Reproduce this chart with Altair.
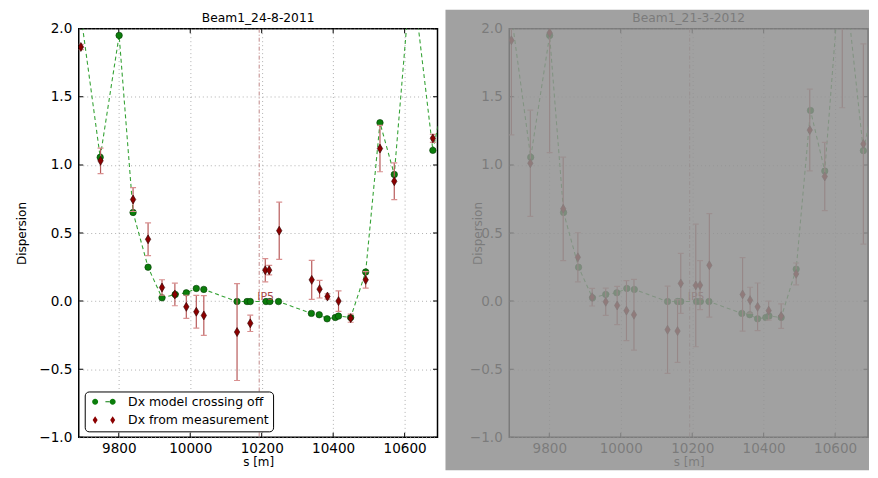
import altair as alt
import pandas as pd

TITLE_LEFT = "Beam1_24-8-2011"
TITLE_RIGHT = "Beam1_21-3-2012"
MODEL_LABEL = "Dx model crossing off"
MEAS_LABEL = "Dx from measurement"
X_TITLE = "s [m]"
Y_TITLE = "Dispersion"
IP5_LABEL = "IP5"
IP5_S = [10193]
X_DOMAIN = [9688, 10692]
Y_DOMAIN = [-1.0, 2.0]
X_TICKS = [9800, 10000, 10200, 10400, 10600]
Y_TICKS = [-1.0, -0.5, 0.0, 0.5, 1.0, 1.5, 2.0]

# model (crossing off) positions and values
model_s = [9693, 9748, 9801, 9840, 9882, 9921, 9958, 9989, 10017, 10038,
           10131, 10159, 10168, 10212, 10223, 10247, 10339, 10361, 10383, 10406,
           10415, 10449, 10491, 10531, 10571, 10619, 10679, 10720]
model_d_left = [2.12, 1.056, 1.951, 0.651, 0.249, 0.024, 0.049, 0.061, 0.093, 0.086,
                -0.003, -0.003, -0.003, -0.003, -0.003, -0.003, -0.09, -0.10, -0.13, -0.12,
                -0.11, -0.12, 0.214, 1.31, 0.93, 2.44, 1.107, 1.62]
model_d_right = [2.12, 1.056, 1.951, 0.651, 0.249, 0.024, 0.049, 0.061, 0.093, 0.086,
                 -0.003, -0.003, -0.003, -0.003, -0.003, -0.003, -0.09, -0.10, -0.13, -0.12,
                 -0.11, -0.12, 0.235, 1.40, 0.955, 2.58, 1.105, 1.62]

# measurements, left panel
meas_s_left = [9694, 9749, 9840, 9882, 9921, 9957, 9989, 10017, 10038, 10131,
               10168, 10210, 10221, 10249, 10340, 10362, 10384, 10415, 10449, 10491,
               10531, 10571, 10679]
meas_d_left = [1.866, 1.03, 0.746, 0.454, 0.10, 0.049, -0.042, -0.078, -0.105, -0.227,
               -0.163, 0.227, 0.227, 0.517, 0.156, 0.088, 0.034, 0.0, -0.125, 0.156,
               1.12, 0.88, 1.195]
meas_e_left = [0.02, 0.094, 0.088, 0.12, 0.057, 0.083, 0.085, 0.12, 0.146, 0.356,
               0.06, 0.085, 0.035, 0.21, 0.143, 0.065, 0.02, 0.075, 0.03, 0.06,
               0.17, 0.135, 0.03]

# measurements, right panel
meas_s_right = [9694, 9747, 9801, 9839, 9880, 9920, 9958, 9990, 10016, 10037,
                10131, 10159, 10168, 10210, 10222, 10248, 10341, 10362, 10383, 10414,
                10449, 10491, 10529, 10571, 10620, 10679]
meas_d_right = [1.915, 1.012, 1.97, 0.678, 0.322, 0.029, -0.005, -0.032, -0.07, -0.10,
                -0.21, -0.22, 0.13, 0.115, 0.117, 0.263, 0.049, 0.007, -0.042, -0.07,
                -0.11, 0.2, 1.256, 0.915, 2.2, 1.154]
meas_e_right = [0.695, 0.39, 0.88, 0.38, 0.18, 0.065, 0.1, 0.14, 0.22, 0.26,
                0.32, 0.23, 0.22, 0.45, 0.18, 0.38, 0.27, 0.095, 0.175, 0.07,
                0.09, 0.08, 0.30, 0.25, 0.78, 0.735]

FONT = "DejaVu Sans"
GREEN = "#0b7d0b"
GREEN_EDGE = "#053a05"
LINE_GREEN = "#36a336"
RED = "#8b0000"
RED_EDGE = "#2e0000"
ERR = "#b85a5a"
CAP = "#d99090"
IP5_LINE = "#c08888"
IP5_TEXT = "#a84848"

DIAMOND = "M0,-1L0.6,0L0,1L-0.6,0Z"
SYM_MODEL = ("M-2.36,0a0.6,0.6 0 1,0 1.2,0a0.6,0.6 0 1,0 -1.2,0Z"
             "M1.16,0a0.6,0.6 0 1,0 1.2,0a0.6,0.6 0 1,0 -1.2,0Z"
             "M0.3,-0.11L1.2,-0.11L1.2,0.11L0.3,0.11Z")
SYM_MEAS = "M-1.76,-0.8L-1.26,0L-1.76,0.8L-2.26,0ZM1.76,-0.8L2.26,0L1.76,0.8L1.26,0Z"

W, H = 360, 410


def panel(title, model_d, ms, md, me, muted):
    model_df = pd.DataFrame({"s": model_s, "d": model_d})
    meas_df = pd.DataFrame({"s": ms, "d": md, "e": me})
    meas_df["lo"] = meas_df["d"] - meas_df["e"]
    meas_df["hi"] = meas_df["d"] + meas_df["e"]
    legend_df = pd.concat([
        model_df.assign(series=MODEL_LABEL),
        meas_df[["s", "d"]].assign(series=MEAS_LABEL),
    ])
    ip5_df = pd.DataFrame({"s": IP5_S, "d": [0.0], "label": [IP5_LABEL]})
    xt_df = pd.DataFrame({"s": X_TICKS})
    yt_df = pd.DataFrame({"d": Y_TICKS})

    xs = alt.Scale(domain=X_DOMAIN, nice=False, zero=False)
    ys = alt.Scale(domain=Y_DOMAIN, nice=False, zero=False)
    xax = alt.Axis(values=X_TICKS, format="d", title=X_TITLE)
    if muted:
        yax = alt.Axis(values=Y_TICKS, format=".1f", title=Y_TITLE, titleX=-25)
    else:
        yax = alt.Axis(values=Y_TICKS, format=".1f", title=Y_TITLE)

    def X(f="s"):
        return alt.X(f"{f}:Q", scale=xs, axis=xax)

    def Y(f="d"):
        return alt.Y(f"{f}:Q", scale=ys, axis=yax)

    if muted:
        leg_fill = ["#7c8d7c", "#907b7b"]
        leg = dict(fillColor="#a1a1a1", strokeColor="#7b7b7b", labelColor="#7b7b7b",
                   symbolStrokeColor="#6f7a6f")
        title_color = "#7b7b7b"
        title_offset = -15
    else:
        leg_fill = [GREEN, RED]
        leg = dict(fillColor="white", strokeColor="black", labelColor="black",
                   symbolStrokeColor="#222222")
        title_color = "black"
        title_offset = -3

    legend = alt.Legend(orient="bottom-left", offset=6, title=None, padding=4,
                        cornerRadius=4, symbolSize=100, symbolOffset=9,
                        labelOffset=18, labelFont=FONT, labelFontSize=12.5,
                        rowPadding=5.5, symbolOpacity=1, symbolStrokeWidth=0.5,
                        **leg)

    base_m = alt.Chart(model_df)
    base_e = alt.Chart(meas_df)

    # inward tick marks on all four sides of the frame
    tick_style = dict(color="black", thickness=1, size=9, opacity=1, clip=True)
    t_top = alt.Chart(xt_df).mark_tick(orient="vertical", **tick_style).encode(
        x=X(), y=alt.value(0))
    t_bot = alt.Chart(xt_df).mark_tick(orient="vertical", **tick_style).encode(
        x=X(), y=alt.value(H))
    t_left = alt.Chart(yt_df).mark_tick(orient="horizontal", **tick_style).encode(
        y=Y(), x=alt.value(0))
    t_right = alt.Chart(yt_df).mark_tick(orient="horizontal", **tick_style).encode(
        y=Y(), x=alt.value(W))

    ip5_rule = alt.Chart(ip5_df).mark_rule(
        color=IP5_LINE, strokeWidth=1, strokeDash=[4, 2, 1, 2], clip=True
    ).encode(x=X())
    ip5_text = alt.Chart(ip5_df).mark_text(
        align="left", baseline="alphabetic", dx=-2, dy=-1, font=FONT, fontSize=11,
        color=IP5_TEXT, clip=True
    ).encode(x=X(), y=Y(), text="label:N")

    line = base_m.mark_line(color=LINE_GREEN, strokeWidth=1.1, strokeDash=[4, 3],
                            clip=True).encode(x=X(), y=Y(), order="s:Q")
    pts_m = base_m.mark_point(filled=True, shape="circle", size=42, fill=GREEN,
                              stroke=GREEN_EDGE, strokeWidth=0.6, opacity=1,
                              clip=True).encode(x=X(), y=Y())
    bars = base_e.mark_rule(color=ERR, strokeWidth=1.2, clip=True).encode(
        x=X(), y=Y("lo"), y2="hi:Q")
    cap_lo = base_e.mark_tick(orient="horizontal", color=CAP, size=6, thickness=1.2,
                              opacity=1, clip=True).encode(x=X(), y=Y("lo"))
    cap_hi = base_e.mark_tick(orient="horizontal", color=CAP, size=6, thickness=1.2,
                              opacity=1, clip=True).encode(x=X(), y=Y("hi"))
    pts_e = base_e.mark_point(filled=True, shape=DIAMOND, size=81, fill=RED,
                              stroke=RED_EDGE, strokeWidth=0.6, opacity=1,
                              clip=True).encode(x=X(), y=Y())

    leg_layer = alt.Chart(legend_df).mark_point(filled=True, clip=True).encode(
        x=X(), y=Y(),
        fill=alt.Fill("series:N", scale=alt.Scale(domain=[MODEL_LABEL, MEAS_LABEL],
                                                  range=leg_fill), legend=legend),
        shape=alt.Shape("series:N", scale=alt.Scale(domain=[MODEL_LABEL, MEAS_LABEL],
                                                    range=[SYM_MODEL, SYM_MEAS]),
                        legend=legend),
        opacity=alt.value(0),
    )

    layers = [ip5_rule, t_top, t_bot, t_left, t_right, line, pts_m, bars,
              cap_lo, cap_hi, pts_e, ip5_text, leg_layer]

    if muted:
        overlay = alt.Chart(pd.DataFrame({"k": [0]})).mark_rect(
            color="#909090", opacity=0.85
        ).encode(x=alt.value(-64), x2=alt.value(361), y=alt.value(-19), y2=alt.value(443))
        layers.append(overlay)

    return alt.layer(*layers).properties(
        width=W, height=H,
        title=alt.Title(title, font=FONT, fontSize=12.3, fontWeight="normal",
                        color=title_color, anchor="middle", offset=title_offset),
    )


left = panel(TITLE_LEFT, model_d_left, meas_s_left, meas_d_left, meas_e_left, False)
right = panel(TITLE_RIGHT, model_d_right, meas_s_right, meas_d_right, meas_e_right, True)

chart = alt.hconcat(left, right, spacing=72, bounds="flush").properties(
    padding={"left": 7, "top": 0, "right": 0, "bottom": 0}
).configure_view(
    stroke="black", strokeWidth=1.5
).configure_axis(
    labelFont=FONT, labelFontSize=13.6, labelColor="black",
    titleFont=FONT, titleFontSize=12, titleFontWeight="normal", titleColor="black",
    grid=True, gridColor="#b0b0b0", gridDash=[1, 3], gridWidth=1,
    domain=False, ticks=False, tickSize=0,
).configure_axisX(
    labelPadding=4, titlePadding=2
).configure_axisY(
    labelPadding=7, titlePadding=10
)

chart.save("out.html", embed_options={"renderer": "svg", "actions": False})
